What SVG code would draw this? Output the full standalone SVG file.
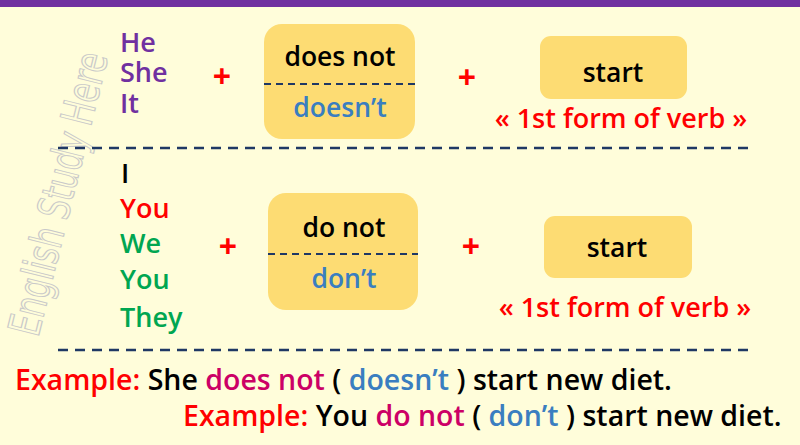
<svg xmlns="http://www.w3.org/2000/svg" width="800" height="445" viewBox="0 0 800 445">
<style>
text{font-family:"Open Sans","Noto Sans","Liberation Sans",sans-serif;font-weight:600;}
.box{fill:#FDDC73;}
.sep{stroke:#1F3864;stroke-width:2.5;stroke-dasharray:10 7;fill:none;}
.inner{stroke:#1F3864;stroke-width:2.2;stroke-dasharray:7 5;fill:none;}
.t{font-size:26.5px;fill:#000;text-anchor:middle;}
.blue{fill:#3A7EC0;}
.red{fill:#FF0000;}
.green{fill:#00A651;}
.purple{fill:#7030A0;}
.mag{fill:#CC0066;}
.pron{font-size:27px;}
.plus{font-size:32px;font-weight:bold;fill:#FF0000;text-anchor:middle;}
.note{font-size:27px;fill:#FF0000;text-anchor:middle;}
.ex{font-size:28.5px;fill:#000;}
.wm{font-family:"DejaVu Sans",sans-serif;font-weight:normal;font-size:44px;fill:#FFFDDA;stroke:#C9C9C9;stroke-width:1.2;}
</style>
<rect width="800" height="445" fill="#FFFDDA"/>
<rect width="800" height="7" fill="#7030A0"/>
<g id="watermark">
<text class="wm" transform="translate(38,338) rotate(-76)" textLength="110" lengthAdjust="spacingAndGlyphs">English</text>
<text class="wm" transform="translate(67,221.5) rotate(-76)" textLength="88" lengthAdjust="spacingAndGlyphs">Study</text>
<text class="wm" transform="translate(90.5,127.5) rotate(-76)" textLength="73" lengthAdjust="spacingAndGlyphs">Here</text>
</g>
<g id="connectors">
<line class="sep" x1="58" y1="148" x2="748" y2="148"/>
<line class="sep" x1="58" y1="350" x2="748" y2="350"/>
</g>
<g id="pronouns-1">
<text class="pron purple"><tspan x="120" y="52">He</tspan><tspan x="120" y="82">She</tspan><tspan x="120" y="113">It</tspan></text>
</g>
<g id="plus-1a"><text class="plus" x="222" y="88">+</text></g>
<g id="box-does-not">
<rect class="box" x="264" y="24" width="151" height="115" rx="18"/>
<line class="inner" x1="264" y1="84" x2="415" y2="84"/>
<text class="t" x="340" y="66">does not</text>
<text class="t blue" x="340" y="117">doesn’t</text>
</g>
<g id="plus-1b"><text class="plus" x="467" y="89">+</text></g>
<g id="start-1">
<rect class="box" x="540" y="36" width="147" height="63" rx="11"/>
<text class="t" x="613" y="82">start</text>
</g>
<g id="note-1"><text class="note" x="621" y="128">« 1st form of verb »</text></g>
<g id="pronouns-2">
<text class="pron"><tspan x="121" y="183" fill="#000">I</tspan><tspan class="red" x="120" y="218">You</tspan><tspan class="green" x="120" y="253">We</tspan><tspan class="green" x="120" y="289">You</tspan><tspan class="green" x="120" y="327">They</tspan></text>
</g>
<g id="plus-2a"><text class="plus" x="228" y="258">+</text></g>
<g id="box-do-not">
<rect class="box" x="268" y="193" width="150" height="117" rx="18"/>
<line class="inner" x1="268" y1="254" x2="418" y2="254"/>
<text class="t" x="344" y="237">do not</text>
<text class="t blue" x="344" y="288">don’t</text>
</g>
<g id="plus-2b"><text class="plus" x="471" y="258">+</text></g>
<g id="start-2">
<rect class="box" x="544" y="216" width="148" height="62" rx="11"/>
<text class="t" x="617" y="257">start</text>
</g>
<g id="note-2"><text class="note" x="625" y="317">« 1st form of verb »</text></g>
<g id="example-1">
<text class="ex" x="15" y="390"><tspan class="red">Example:</tspan> She <tspan class="mag">does not</tspan> ( <tspan class="blue">doesn’t</tspan> ) start new diet.</text>
</g>
<g id="example-2">
<text class="ex" x="183" y="426"><tspan class="red">Example:</tspan> You <tspan class="mag">do not</tspan> ( <tspan class="blue">don’t</tspan> ) start new diet.</text>
</g>
</svg>
